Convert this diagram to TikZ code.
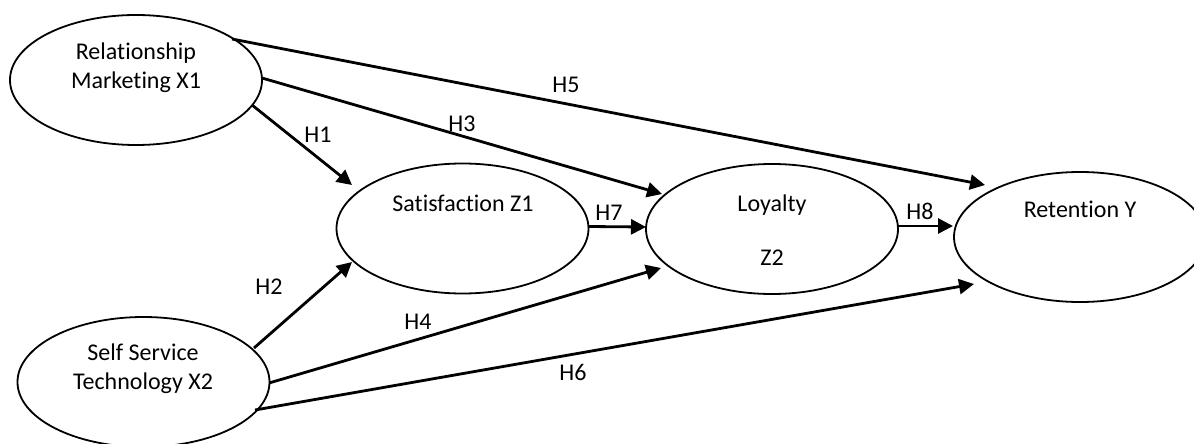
\documentclass[tikz,border=0pt]{standalone}
\usepackage{fontspec}
\setmainfont{Carlito}[Ligatures=NoCommon]
\usetikzlibrary{shapes.geometric,arrows.meta,calc}
\begin{document}
\begin{tikzpicture}[x=0.5pt,y=-0.5pt,
  latent/.style={draw, ellipse, line width=0.9pt, minimum width=126pt, minimum height=65pt, inner sep=0pt},
  txt/.style={inner sep=0pt, align=center, font=\fontsize{12}{14.6}\selectfont},
  arr/.style={-{Triangle[length=7.5pt,width=7.5pt]}, line width=1.4pt}]
\fill[white] (0,0) rectangle (1194,444);
\useasboundingbox (0,0) rectangle (1194,444);
% ellipses
\node[latent] (x1) at (136,80) {};
\node[latent] (sat) at (462.5,228.5) {};
\node[latent] (loy) at (772,229) {};
\node[latent] (ret) at (1080,237) {};
\node[latent] (x2) at (143.5,382) {};
% texts
\node[txt] (x1t) at (136,68) {Relationship\\Marketing X1};
\node[txt] (satt) at (463,203) {Satisfaction Z1};
\node[txt] (loyt) at (772,205) {Loyalty};
\node[txt] (loyz) at (772,258) {Z2};
\node[txt] (rett) at (1080,209) {Retention Y};
\node[txt] (x2t) at (143,369) {Self Service\\Technology X2};
% arrows
\draw[arr] ($(x1.center)+(96,-41)$) -- ($(ret.center)+(-95,-52)$);
\draw[arr] ($(x1.center)+(126,-2)$) -- ($(loy.center)+(-110,-35)$);
\draw[arr] ($(x1.center)+(116,25)$) -- ($(sat.center)+(-110.5,-43.5)$);
\draw[arr] ($(x2.center)+(110.5,-34)$) -- ($(sat.center)+(-110.5,33.5)$);
\draw[arr] ($(x2.center)+(125.5,1)$) -- ($(loy.center)+(-111,39)$);
\draw[arr] ($(x2.center)+(111.5,28)$) -- ($(ret.center)+(-106,47)$);
\draw[arr] ($(sat.center)+(125.5,-2)$) -- ($(loy.center)+(-126,-2)$);
\draw[arr] ($(loy.center)+(126,-3)$) -- ($(ret.center)+(-127,-11)$);
% labels
\node[txt] (l1) at (318,135) {H1};
\node[txt] (l2) at (269,287) {H2};
\node[txt] (l3) at (462,124) {H3};
\node[txt] (l4) at (418,322) {H4};
\node[txt] (l5) at (566,85) {H5};
\node[txt] (l6) at (573,372) {H6};
\node[txt] (l7) at (609,213) {H7};
\node[txt] (l8) at (920,211) {H8};
\end{tikzpicture}
\end{document}
